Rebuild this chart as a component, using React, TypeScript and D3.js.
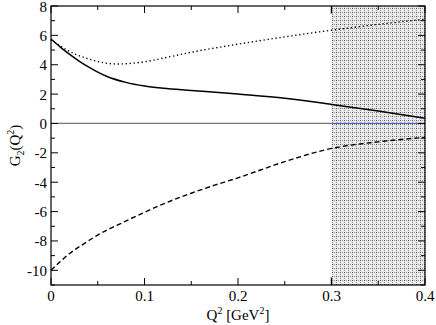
import React from "react";
import * as d3 from "d3";

const qSolid = [0, 0.01, 0.02, 0.03, 0.04, 0.05, 0.06, 0.08, 0.1, 0.12, 0.15, 0.2, 0.25, 0.3, 0.35, 0.4];
const gSolid = [5.75, 5.2, 4.7, 4.25, 3.85, 3.5, 3.2, 2.8, 2.55, 2.4, 2.25, 2.0, 1.72, 1.3, 0.85, 0.35];

const qDotted = [0, 0.02, 0.04, 0.06, 0.07, 0.08, 0.1, 0.12, 0.15, 0.2, 0.25, 0.3, 0.35, 0.4];
const gDotted = [5.7, 4.9, 4.4, 4.1, 4.05, 4.07, 4.2, 4.45, 4.85, 5.4, 5.9, 6.35, 6.75, 7.1];

const qDashed = [0, 0.01, 0.02, 0.035, 0.05, 0.075, 0.1, 0.125, 0.15, 0.175, 0.2, 0.25, 0.3, 0.35, 0.4];
const gDashed = [-10, -9.4, -8.85, -8.2, -7.6, -6.8, -6.05, -5.35, -4.75, -4.2, -3.7, -2.6, -1.7, -1.25, -0.95];

const xTicks = [0, 0.1, 0.2, 0.3, 0.4];
const xTickLabels = ["0", "0.1", "0.2", "0.3", "0.4"];
const xMinor = [0.05, 0.15, 0.25, 0.35];
const yTicks = [-10, -8, -6, -4, -2, 0, 2, 4, 6, 8];
const yMinor = [-11, -9, -7, -5, -3, -1, 1, 3, 5, 7];
const band = [0.3, 0.4];

export default function App() {
  const W = 436, H = 325;
  const L = 51, R = 425, T = 6, B = 285;
  const x = d3.scaleLinear().domain([0, 0.4]).range([L, R]);
  const y = d3.scaleLinear().domain([-11, 8]).range([B, T]);
  const line = d3.line<[number, number]>().x(d => x(d[0])).y(d => y(d[1])).curve(d3.curveMonotoneX);
  const zip = (a: number[], b: number[]) => a.map((v, i) => [v, b[i]] as [number, number]);
  const font = "'Liberation Serif', 'Times New Roman', serif";
  const major = 7, minor = 4;
  return (
    <svg width={W} height={H} style={{ position: "absolute", left: 0, top: 0, background: "#fff", fontFamily: font }}>
      <defs>
        <pattern id="dots" width="4" height="4" patternUnits="userSpaceOnUse">
          <rect width="4" height="4" fill="#e8e8e8" />
          <rect x="0" y="0" width="1" height="1" fill="#555" />
          <rect x="0" y="2" width="1" height="1" fill="#999" />
          <rect x="2" y="0" width="1" height="1" fill="#999" />
          <rect x="2" y="2" width="1" height="1" fill="#fff" />
        </pattern>
      </defs>
      <rect x={x(band[0])} y={T} width={x(band[1]) - x(band[0])} height={B - T} fill="url(#dots)" />
      <line x1={x(band[0])} x2={x(band[0])} y1={T} y2={T + 8} stroke="#888" strokeWidth={2} />
      <line x1={x(band[0])} x2={x(band[0])} y1={B - 8} y2={B} stroke="#888" strokeWidth={2} />
      <line x1={L} x2={x(band[0])} y1={y(0)} y2={y(0)} stroke="#777" strokeWidth={1.2} />
      <line x1={x(band[0])} x2={R} y1={y(0)} y2={y(0)} stroke="#5566cc" strokeWidth={1.2} />
      <path d={line(zip(qDotted, gDotted)) || ""} fill="none" stroke="#000" strokeWidth={1.4} strokeDasharray="1.3,2.7" />
      <path d={line(zip(qDashed, gDashed)) || ""} fill="none" stroke="#000" strokeWidth={1.4} strokeDasharray="5,3" />
      <path d={line(zip(qSolid, gSolid)) || ""} fill="none" stroke="#000" strokeWidth={1.5} />
      <rect x={L} y={T} width={R - L} height={B - T} fill="none" stroke="#000" strokeWidth={1.2} />
      {xTicks.map(t => (
        <g key={"xt" + t}>
          <line x1={x(t)} x2={x(t)} y1={B} y2={B - major} stroke="#000" />
          <line x1={x(t)} x2={x(t)} y1={T} y2={T + major} stroke="#000" />
        </g>
      ))}
      {xMinor.map(t => (
        <g key={"xm" + t}>
          <line x1={x(t)} x2={x(t)} y1={B} y2={B - minor} stroke="#000" />
          <line x1={x(t)} x2={x(t)} y1={T} y2={T + minor} stroke="#000" />
        </g>
      ))}
      {yTicks.map(t => (
        <g key={"yt" + t}>
          <line x1={L} x2={L + major} y1={y(t)} y2={y(t)} stroke="#000" />
          <line x1={R} x2={R - major} y1={y(t)} y2={y(t)} stroke="#000" />
        </g>
      ))}
      {yMinor.map(t => (
        <g key={"ym" + t}>
          <line x1={L} x2={L + minor} y1={y(t)} y2={y(t)} stroke="#000" />
          <line x1={R} x2={R - minor} y1={y(t)} y2={y(t)} stroke="#000" />
        </g>
      ))}
      {xTicks.map((t, i) => (
        <text key={"xl" + t} x={x(t)} y={B + 16} textAnchor="middle" fontFamily={font} fontSize={15}>{xTickLabels[i]}</text>
      ))}
      {yTicks.map(t => (
        <text key={"yl" + t} x={L - 4} y={y(t) + 5.5} textAnchor="end" fontFamily={font} fontSize={15}>{t}</text>
      ))}
      <text x={(L + R) / 2} y={H - 5} textAnchor="middle" fontFamily={font} fontSize={15}>
        Q<tspan dy={-6} fontSize={10}>2</tspan><tspan dy={6}> [GeV</tspan><tspan dy={-6} fontSize={10}>2</tspan><tspan dy={6}>]</tspan>
      </text>
      <text transform={`translate(20,${(T + B) / 2}) rotate(-90)`} textAnchor="middle" fontFamily={font} fontSize={15}>
        G<tspan dy={4} fontSize={10}>2</tspan><tspan dy={-4}>(Q</tspan><tspan dy={-6} fontSize={10}>2</tspan><tspan dy={6}>)</tspan>
      </text>
    </svg>
  );
}
